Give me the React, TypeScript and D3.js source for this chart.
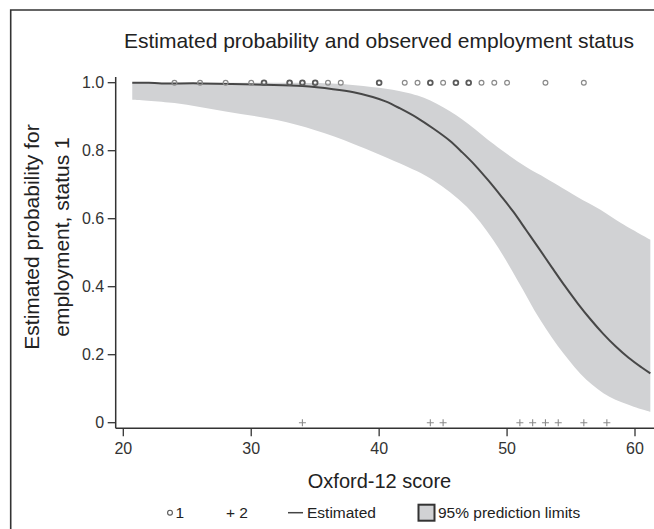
import React, { useRef, useEffect } from 'react';
import * as d3 from 'd3';

// observed status 1 (drawn at p = 1) and status 2 (drawn at p = 0)
const status1Scores = [24, 26, 28, 30, 31, 33, 34, 35, 36, 37, 40, 42, 43, 44, 45, 46, 47, 48, 49, 50, 53, 56];
const status1Counts = [1, 1, 1, 1, 2, 2, 2, 2, 1, 1, 2, 1, 1, 2, 1, 2, 2, 1, 1, 1, 1, 1];
const status2Scores = [34, 44, 45, 51, 52, 53, 54, 56, 57.8];

// estimated probability curve
const estScores = [20.7, 22, 23, 26, 31, 34, 36.4, 38, 39.5, 40.5, 41.6, 43, 44.2, 45.5, 46.5, 47.5, 48.5, 49.5, 50.5, 51.5, 52.5, 53.5, 54.5, 55.5, 56.5, 57.5, 58.5, 59.5, 60.5, 61.2];
const estProb = [1.0, 1.0, 0.998, 0.998, 0.994, 0.99, 0.981, 0.972, 0.958, 0.945, 0.925, 0.896, 0.866, 0.83, 0.795, 0.757, 0.714, 0.668, 0.62, 0.566, 0.512, 0.457, 0.403, 0.352, 0.305, 0.262, 0.224, 0.191, 0.163, 0.145];

// 95% prediction limits
const upperScores = [20.7, 30, 35, 37.5, 40, 42, 43, 44, 45, 46, 47, 48, 49, 50, 51.5, 53, 54, 55.5, 57.3, 59, 61.2];
const upperProb = [1.0, 1.0, 0.999, 0.995, 0.985, 0.972, 0.962, 0.948, 0.928, 0.905, 0.878, 0.848, 0.818, 0.79, 0.752, 0.72, 0.698, 0.664, 0.626, 0.585, 0.538];
const lowerScores = [20.7, 24, 28, 32, 35, 38, 41.6, 44.2, 46.85, 48.9, 50.8, 52.6, 54.4, 56.2, 58, 59.9, 61.2];
const lowerProb = [0.95, 0.94, 0.915, 0.89, 0.86, 0.82, 0.763, 0.714, 0.635, 0.538, 0.42, 0.302, 0.204, 0.126, 0.076, 0.047, 0.032];

const xTicks = [20, 30, 40, 50, 60];
const yTicks = [0, 0.2, 0.4, 0.6, 0.8, 1.0];

const FONT = "'Liberation Sans', Arial, sans-serif";

const App = () => {
  const svgRef = useRef<SVGSVGElement>(null);

  useEffect(() => {
    const svg = d3.select(svgRef.current);
    svg.selectAll('*').remove();

    const width = 654;
    const height = 529;
    const axisX = 115.7;
    const axisY = 428.3;

    const x = d3.scaleLinear().domain([20, 60]).range([123.3, 635]);
    const y = d3.scaleLinear().domain([0, 1]).range([422.7, 82.7]);

    svg.attr('width', width).attr('height', height);
    svg.append('rect').attr('width', width).attr('height', height).attr('fill', '#fff');

    // outer frame (top and left only visible)
    svg.append('path')
      .attr('d', `M10.7,${height} L10.7,10 L${width},10`)
      .attr('fill', 'none').attr('stroke', '#333').attr('stroke-width', 1.6);

    // band
    const smooth = d3.line<[number, number]>().curve(d3.curveCatmullRom.alpha(0.5));
    const upPts: [number, number][] = upperScores.map((s, i) => [x(s), y(upperProb[i])]);
    const lowPts: [number, number][] = lowerScores.map((s, i) => [x(s), y(lowerProb[i])]).reverse() as [number, number][];
    const upPath = smooth(upPts) as string;
    const lowPath = smooth(lowPts) as string;
    svg.append('path')
      .attr('d', upPath + 'L' + lowPath.slice(1) + 'Z')
      .attr('fill', '#d1d2d4');

    // estimated line
    const line = d3.line<number>().x((d) => x(d)).y((_, i) => y(estProb[i])).curve(d3.curveCatmullRom.alpha(0.5));
    svg.append('path')
      .attr('d', line(estScores))
      .attr('fill', 'none').attr('stroke', '#474747').attr('stroke-width', 2);

    // observed status 1
    svg.append('g').selectAll('circle')
      .data(status1Scores)
      .enter()
      .append('circle')
      .attr('cx', (d) => x(d))
      .attr('cy', y(1))
      .attr('r', 2.4)
      .attr('fill', 'none')
      .attr('stroke', (_, i) => (status1Counts[i] > 1 ? '#5a5a5a' : '#8a8a8a'))
      .attr('stroke-width', (_, i) => (status1Counts[i] > 1 ? 1.8 : 1.2));

    // observed status 2
    svg.append('g').selectAll('path')
      .data(status2Scores)
      .enter()
      .append('path')
      .attr('d', 'M-3.5,0H3.5M0,-3.5V3.5')
      .attr('transform', (d) => `translate(${x(d)},${y(0)})`)
      .attr('stroke', '#8a8a8a').attr('stroke-width', 1.1).attr('fill', 'none');

    // y axis
    const gy = svg.append('g').attr('font-family', FONT);
    gy.append('line').attr('x1', axisX).attr('x2', axisX).attr('y1', 77).attr('y2', axisY)
      .attr('stroke', '#333').attr('stroke-width', 1.5);
    yTicks.forEach((t) => {
      gy.append('line').attr('x1', axisX - 8).attr('x2', axisX).attr('y1', y(t)).attr('y2', y(t))
        .attr('stroke', '#333').attr('stroke-width', 1.3);
      gy.append('text').attr('x', axisX - 11.5).attr('y', y(t)).attr('dy', '0.36em')
        .attr('text-anchor', 'end').attr('font-size', 16).attr('fill', '#333')
        .text(t === 0 ? '0' : d3.format('.1f')(t));
    });

    // x axis
    const gx = svg.append('g').attr('font-family', FONT);
    gx.append('line').attr('x1', axisX).attr('x2', width).attr('y1', axisY).attr('y2', axisY)
      .attr('stroke', '#333').attr('stroke-width', 1.5);
    xTicks.forEach((t) => {
      gx.append('line').attr('x1', x(t)).attr('x2', x(t)).attr('y1', axisY).attr('y2', axisY + 8)
        .attr('stroke', '#333').attr('stroke-width', 1.3);
      gx.append('text').attr('x', x(t)).attr('y', 454)
        .attr('text-anchor', 'middle').attr('font-size', 16).attr('fill', '#333')
        .text(t);
    });

    // titles
    svg.append('text').attr('x', 379).attr('y', 48).attr('text-anchor', 'middle')
      .attr('font-family', FONT).attr('font-size', 21).attr('fill', '#222')
      .text('Estimated probability and observed employment status');
    svg.append('text').attr('x', 379.5).attr('y', 488).attr('text-anchor', 'middle')
      .attr('font-family', FONT).attr('font-size', 20).attr('fill', '#222')
      .text('Oxford-12 score');
    const yl = svg.append('text').attr('transform', 'translate(0,237) rotate(-90)')
      .attr('text-anchor', 'middle').attr('font-family', FONT).attr('font-size', 21).attr('fill', '#222');
    yl.append('tspan').attr('x', 0).attr('y', 39).text('Estimated probability for');
    yl.append('tspan').attr('x', 0).attr('y', 69).text('employment, status 1');

    // legend
    const lg = svg.append('g').attr('font-family', FONT).attr('font-size', 15.5).attr('fill', '#222');
    const ly = 512.7;
    lg.append('circle').attr('cx', 170).attr('cy', ly).attr('r', 2.4)
      .attr('fill', 'none').attr('stroke', '#555').attr('stroke-width', 1.1);
    lg.append('text').attr('x', 175.5).attr('y', ly).attr('dy', '0.36em').text('1');
    lg.append('text').attr('x', 226).attr('y', ly).attr('dy', '0.36em').text('+ 2');
    lg.append('line').attr('x1', 288).attr('x2', 303).attr('y1', ly).attr('y2', ly)
      .attr('stroke', '#444').attr('stroke-width', 1.5);
    lg.append('text').attr('x', 307).attr('y', ly).attr('dy', '0.36em').text('Estimated');
    lg.append('rect').attr('x', 418.5).attr('y', ly - 8).attr('width', 16).attr('height', 16)
      .attr('fill', '#d1d2d4').attr('stroke', '#333').attr('stroke-width', 2);
    lg.append('text').attr('x', 438).attr('y', ly).attr('dy', '0.36em').text('95% prediction limits');
  }, []);

  return <svg ref={svgRef} width="654" height="529" style={{ display: 'block', position: 'absolute', left: 0, top: 0 }}></svg>;
};

export default App;
